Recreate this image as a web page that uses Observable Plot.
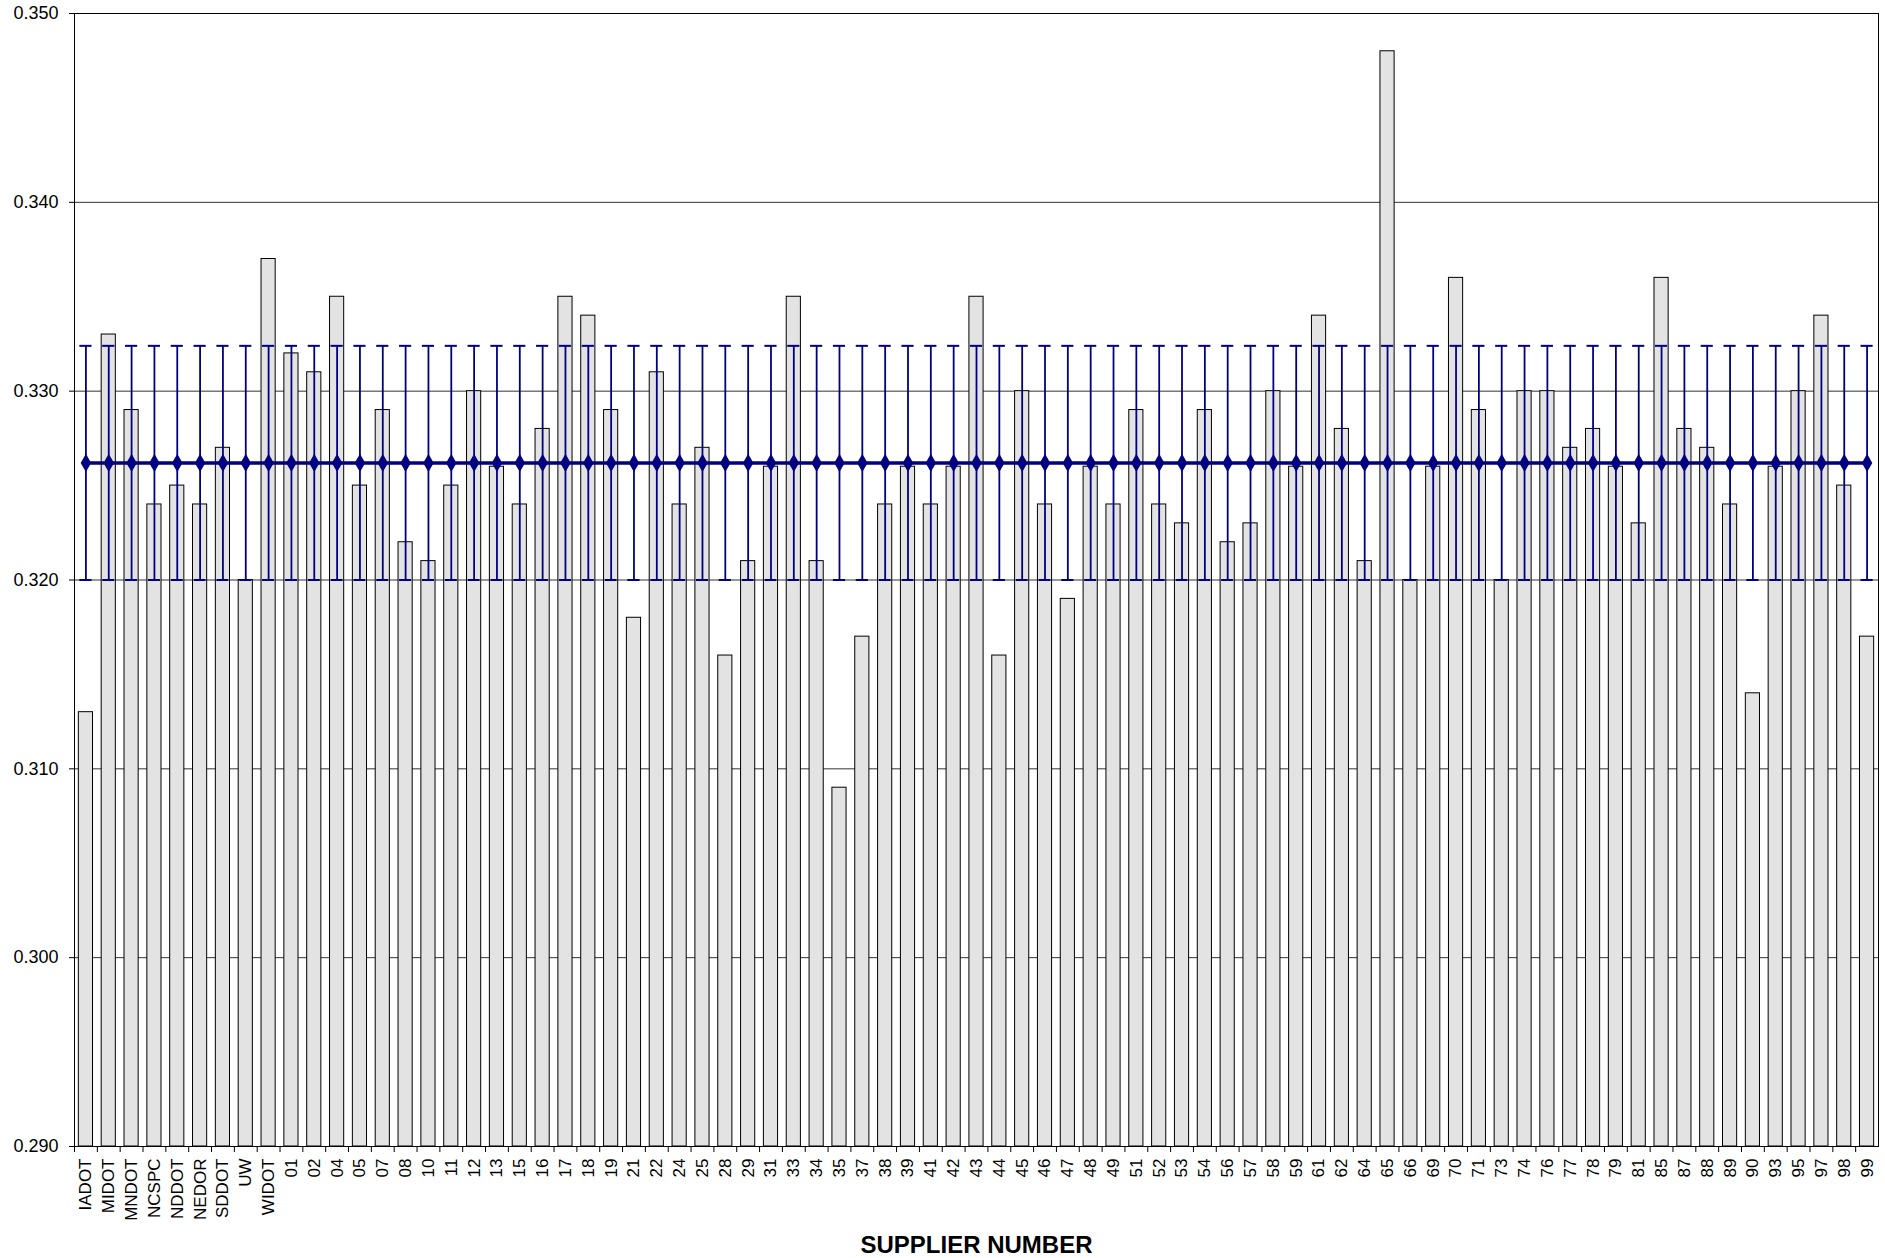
<!DOCTYPE html>
<html>
<head>
<meta charset="utf-8">
<script src="https://cdn.jsdelivr.net/npm/d3@7"></script>
<script src="https://cdn.jsdelivr.net/npm/@observablehq/plot@0.6"></script>
<style>
  html, body { margin: 0; padding: 0; background: #fff; }
  #chart svg { display: block; }
</style>
</head>
<body>
<div id="chart"></div>
<script>
const suppliers = ["IADOT","MIDOT","MNDOT","NCSPC","NDDOT","NEDOR","SDDOT","UW","WIDOT",
  "01","02","04","05","07","08","10","11","12","13","15","16","17","18","19",
  "21","22","24","25","28","29","31","33","34","35","37","38","39",
  "41","42","43","44","45","46","47","48","49",
  "51","52","53","54","56","57","58","59",
  "61","62","64","65","66","69",
  "70","71","73","74","76","77","78","79",
  "81","85","87","88","89",
  "90","93","95","97","98","99"];

const values = [0.313,0.333,0.329,0.324,0.325,0.324,0.327,0.320,0.337,
  0.332,0.331,0.335,0.325,0.329,0.322,0.321,0.325,0.330,0.326,0.324,0.328,0.335,0.334,0.329,
  0.318,0.331,0.324,0.327,0.316,0.321,0.326,0.335,0.321,0.309,0.317,0.324,0.326,
  0.324,0.326,0.335,0.316,0.330,0.324,0.319,0.326,0.324,
  0.329,0.324,0.323,0.329,0.322,0.323,0.330,0.326,
  0.334,0.328,0.321,0.348,0.320,0.326,
  0.336,0.329,0.320,0.330,0.330,0.327,0.328,0.326,
  0.323,0.336,0.328,0.327,0.324,
  0.314,0.326,0.330,0.334,0.325,0.317];

const meanValue = 0.3262;
const errorLow = 0.3200;
const errorHigh = 0.3324;

const yTicks = [0.290, 0.300, 0.310, 0.320, 0.330, 0.340, 0.350];
const axisTitle = "SUPPLIER NUMBER";

const data = suppliers.map((s, i) => ({supplier: s, value: values[i], mean: meanValue, lo: errorLow, hi: errorHigh}));

const W = 1885, H = 1258;
const mL = 74, mR = 7, mT = 13, mB = 112;
const step = (W - mL - mR) / suppliers.length;
const navy = "#000080";
const font = "Arial, 'Liberation Sans', sans-serif";

const chart = Plot.plot({
  width: W,
  height: H,
  marginTop: mT,
  marginBottom: mB,
  marginLeft: mL,
  marginRight: mR,
  style: {fontFamily: font, fontSize: "18px", color: "#000", background: "#fff"},
  x: {domain: suppliers, paddingInner: 0.38, paddingOuter: 0.19, label: null},
  y: {domain: [yTicks[0], yTicks[yTicks.length - 1]], label: null},
  marks: [
    Plot.gridY(yTicks, {stroke: "#333", strokeOpacity: 1, strokeWidth: 1}),
    Plot.barY(data, {x: "supplier", y1: yTicks[0], y2: "value", fill: "#e3e3e3", stroke: "#000", strokeWidth: 1}),
    Plot.ruleX(data, {x: "supplier", y1: "lo", y2: "hi", stroke: navy, strokeWidth: 1.8}),
    Plot.tickY(data, {x: "supplier", y: "lo", stroke: navy, strokeWidth: 2, insetLeft: 1, insetRight: 1}),
    Plot.tickY(data, {x: "supplier", y: "hi", stroke: navy, strokeWidth: 2, insetLeft: 1, insetRight: 1}),
    Plot.line(data, {x: "supplier", y: "mean", stroke: navy, strokeWidth: 3.5}),
    Plot.dot(data, {x: "supplier", y: "mean", symbol: "diamond", fill: navy, stroke: "none", r: 5.5}),
    Plot.frame({stroke: "#000", strokeWidth: 1}),
    Plot.axisY(yTicks, {tickSize: 5, tickPadding: 11, tickFormat: d3.format(".3f"), fontSize: 18, label: null}),
    Plot.axisX({tickSize: 0, tickRotate: -90, tickPadding: 12, fontSize: 17, label: null}),
    Plot.axisX({tickSize: 6, text: null, dx: -step / 2, label: null}),
    Plot.text([axisTitle], {frameAnchor: "bottom", dy: 106, fontSize: 24, fontWeight: "bold", fill: "#000"})
  ]
});

document.getElementById("chart").appendChild(chart);
</script>
</body>
</html>
